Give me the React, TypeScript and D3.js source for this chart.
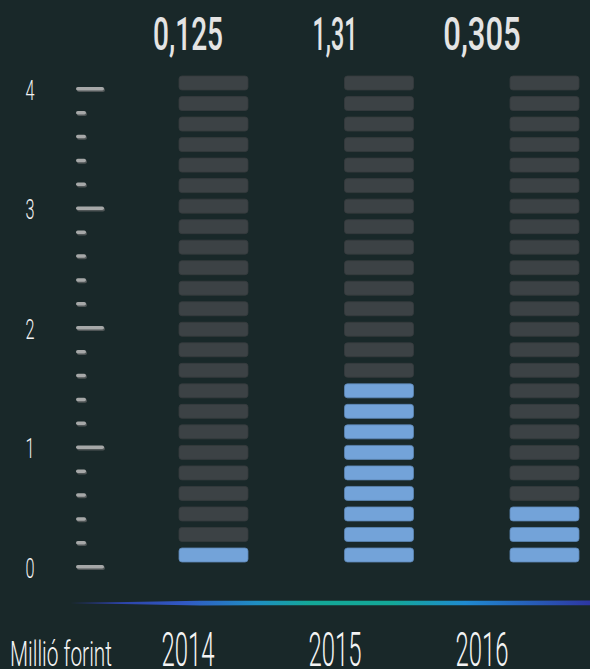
import React from "react";
import * as d3 from "d3";

const years = ["2014", "2015", "2016"];
const values = [0.125, 1.31, 0.305];
const valueLabels = ["0,125", "1,31", "0,305"];
const axisTicks = [0, 1, 2, 3, 4];
const unitLabel = "Millió forint";
const barsPerColumn = 24;
const valuePerBar = 0.15;

const W = 590;
const H = 669;

const BG = "#192829";
const GRAY = "#3c4245";
const BLUE = "#73a3d9";

// approximate widths of the condensed display face
function condensedWidth(s: string, digit: number, one: number, comma: number) {
  let w = 0;
  for (const c of s) {
    if (c === "1") w += one;
    else if (c === ",") w += comma;
    else w += digit;
  }
  return w;
}

export default function App() {
  const xBars = d3.scaleBand<string>().domain(years).range([179, 579]).paddingInner(0.583);
  const xLabels = d3.scalePoint<string>().domain(years).range([188, 482]);
  const idx = d3.range(barsPerColumn);
  const yBars = d3.scaleBand<number>().domain(idx).range([562, 76]).paddingInner(0.318);
  const yAxis = d3.scaleLinear().domain([0, 4]).range([567, 89]);
  const minor = d3.range(0, 4.0001, 0.2).map((v) => Math.round(v * 10) / 10);

  const fillCounts = values.map((v) => Math.ceil(v / valuePerBar - 1e-9));

  const font = "Roboto, 'Noto Sans', sans-serif";

  return (
    <div style={{ position: "absolute", left: 0, top: 0 }}>
      <svg width={W} height={H} style={{ display: "block" }}>
        <defs>
          <linearGradient id="baseGrad" x1="70" x2="590" y1="0" y2="0" gradientUnits="userSpaceOnUse">
            <stop offset="0%" stopColor="#2a3392" />
            <stop offset="22%" stopColor="#3159c4" />
            <stop offset="36%" stopColor="#1f8fc2" />
            <stop offset="46%" stopColor="#14a898" />
            <stop offset="62%" stopColor="#14a898" />
            <stop offset="76%" stopColor="#1f8ad0" />
            <stop offset="100%" stopColor="#2d36a2" />
          </linearGradient>
        </defs>
        <rect x={0} y={0} width={W} height={H} fill={BG} />

        {/* y axis ticks */}
        {minor.map((v) => {
          const major = Math.abs(v - Math.round(v)) < 1e-6;
          const y = yAxis(v);
          const len = major ? 28 : 10;
          return (
            <g key={"t" + v}>
              <rect x={77} y={y - 1} width={len} height={4} rx={2} fill="#4f5556" />
              <rect x={76} y={y - 2} width={len} height={3.5} rx={1.75} fill="#a6a8a8" />
            </g>
          );
        })}
        {axisTicks.map((v) => (
          <g key={"l" + v} transform={`translate(30,${yAxis(v) + 10.5}) scale(0.58,1)`}>
            <text
              x={0}
              y={0}
              textAnchor="middle"
              fontFamily={font}
              fontWeight={300}
              fontSize={28}
              fill="#f2f2f2"
            >
              {v}
            </text>
          </g>
        ))}

        {/* bar columns */}
        {years.map((yr, i) => (
          <g key={yr}>
            {idx.map((k) => (
              <rect
                key={k}
                x={xBars(yr)}
                y={yBars(k)}
                width={xBars.bandwidth()}
                height={yBars.bandwidth()}
                rx={3}
                fill={k < fillCounts[i] ? BLUE : GRAY}
                stroke={k < fillCounts[i] ? "#5d87b5" : "#363b3e"}
                strokeWidth={0.8}
              />
            ))}
          </g>
        ))}

        {/* value labels */}
        {years.map((yr, i) => (
          <text
            key={"v" + yr}
            x={xLabels(yr)}
            y={50}
            textAnchor="middle"
            fontFamily={font}
            fontWeight={500}
            fontSize={46}
            fill="#e4e4e4"
            textLength={condensedWidth(valueLabels[i], 17.5, 10, 7.5)}
            lengthAdjust="spacingAndGlyphs"
          >
            {valueLabels[i]}
          </text>
        ))}

        {/* base gradient line */}
        <path d="M70,603 L200,600.8 L590,600.6 L590,605.2 L200,605.4 Z" fill="url(#baseGrad)" />

        {/* year labels */}
        {years.map((yr) => (
          <text
            key={"y" + yr}
            x={xLabels(yr)}
            y={666}
            textAnchor="middle"
            fontFamily={font}
            fontWeight={300}
            fontSize={48}
            fill="#f4f4f4"
            textLength={53}
            lengthAdjust="spacingAndGlyphs"
          >
            {yr}
          </text>
        ))}
        <text
          x={10}
          y={666}
          fontFamily={font}
          fontWeight={300}
          fontSize={35}
          fill="#f4f4f4"
          textLength={102}
          lengthAdjust="spacingAndGlyphs"
        >
          {unitLabel}
        </text>
      </svg>
    </div>
  );
}
